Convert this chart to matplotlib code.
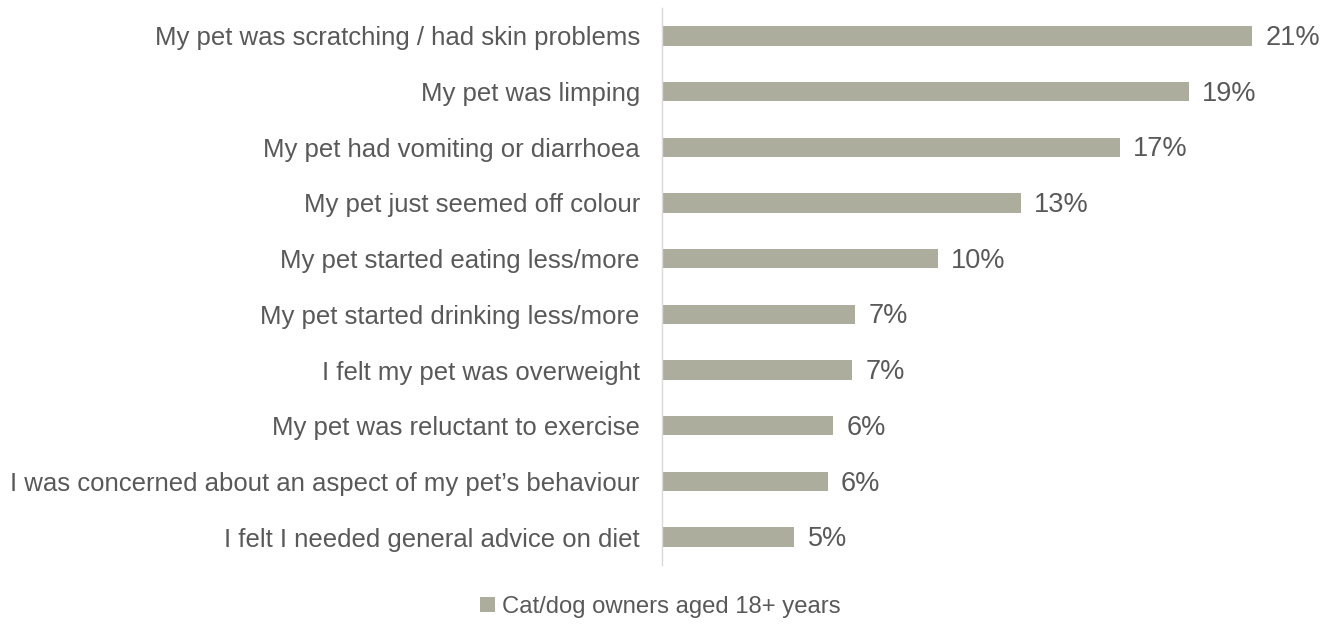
import matplotlib.pyplot as plt
from matplotlib.patches import Patch

plt.rcParams['font.family'] = ['Liberation Sans', 'DejaVu Sans']

reasons = [
    "My pet was scratching / had skin problems",
    "My pet was limping",
    "My pet had vomiting or diarrhoea",
    "My pet just seemed off colour",
    "My pet started eating less/more",
    "My pet started drinking less/more",
    "I felt my pet was overweight",
    "My pet was reluctant to exercise",
    "I was concerned about an aspect of my pet\u2019s behaviour",
    "I felt I needed general advice on diet",
]
share = [21.4, 19.1, 16.6, 13.0, 10.0, 7.0, 6.9, 6.2, 6.0, 4.8]
series_name = "Cat/dog owners aged 18+ years"

bar_color = '#ADAD9D'
text_color = '#595959'

fig = plt.figure(figsize=(13.21, 6.27), dpi=100)
ax = fig.add_axes([662 / 1321, 62 / 627, 650 / 1321, 557 / 627])

y = list(range(len(reasons)))
ax.barh(y, share, height=0.35, color=bar_color)

# percentage labels just past the end of each bar
for yi, v in zip(y, share):
    ax.annotate(f"{v:.0f}%", (v, yi), xytext=(9.5, -1.5), textcoords='offset points',
                va='center', ha='left', fontsize=19.5, color=text_color,
                annotation_clip=False)

ax.set_xlim(0, 23.56)
ax.set_ylim(len(reasons) - 0.5, -0.5)
ax.set_yticks(y)
ax.set_yticklabels(reasons, fontsize=18.5, color=text_color)
ax.tick_params(axis='y', length=0, pad=16)
ax.set_xticks([])

for side in ['top', 'right', 'bottom']:
    ax.spines[side].set_visible(False)
ax.spines['left'].set_color('#D9D9D9')
ax.spines['left'].set_linewidth(1)

handle = Patch(facecolor=bar_color, edgecolor='none')
fig.legend([handle], [series_name], loc='center', bbox_to_anchor=(0.5, 20 / 627),
           frameon=False, fontsize=17.2, labelcolor=text_color,
           handlelength=0.6, handleheight=0.6, handletextpad=0.3)

fig.savefig('out.png', dpi=100)
